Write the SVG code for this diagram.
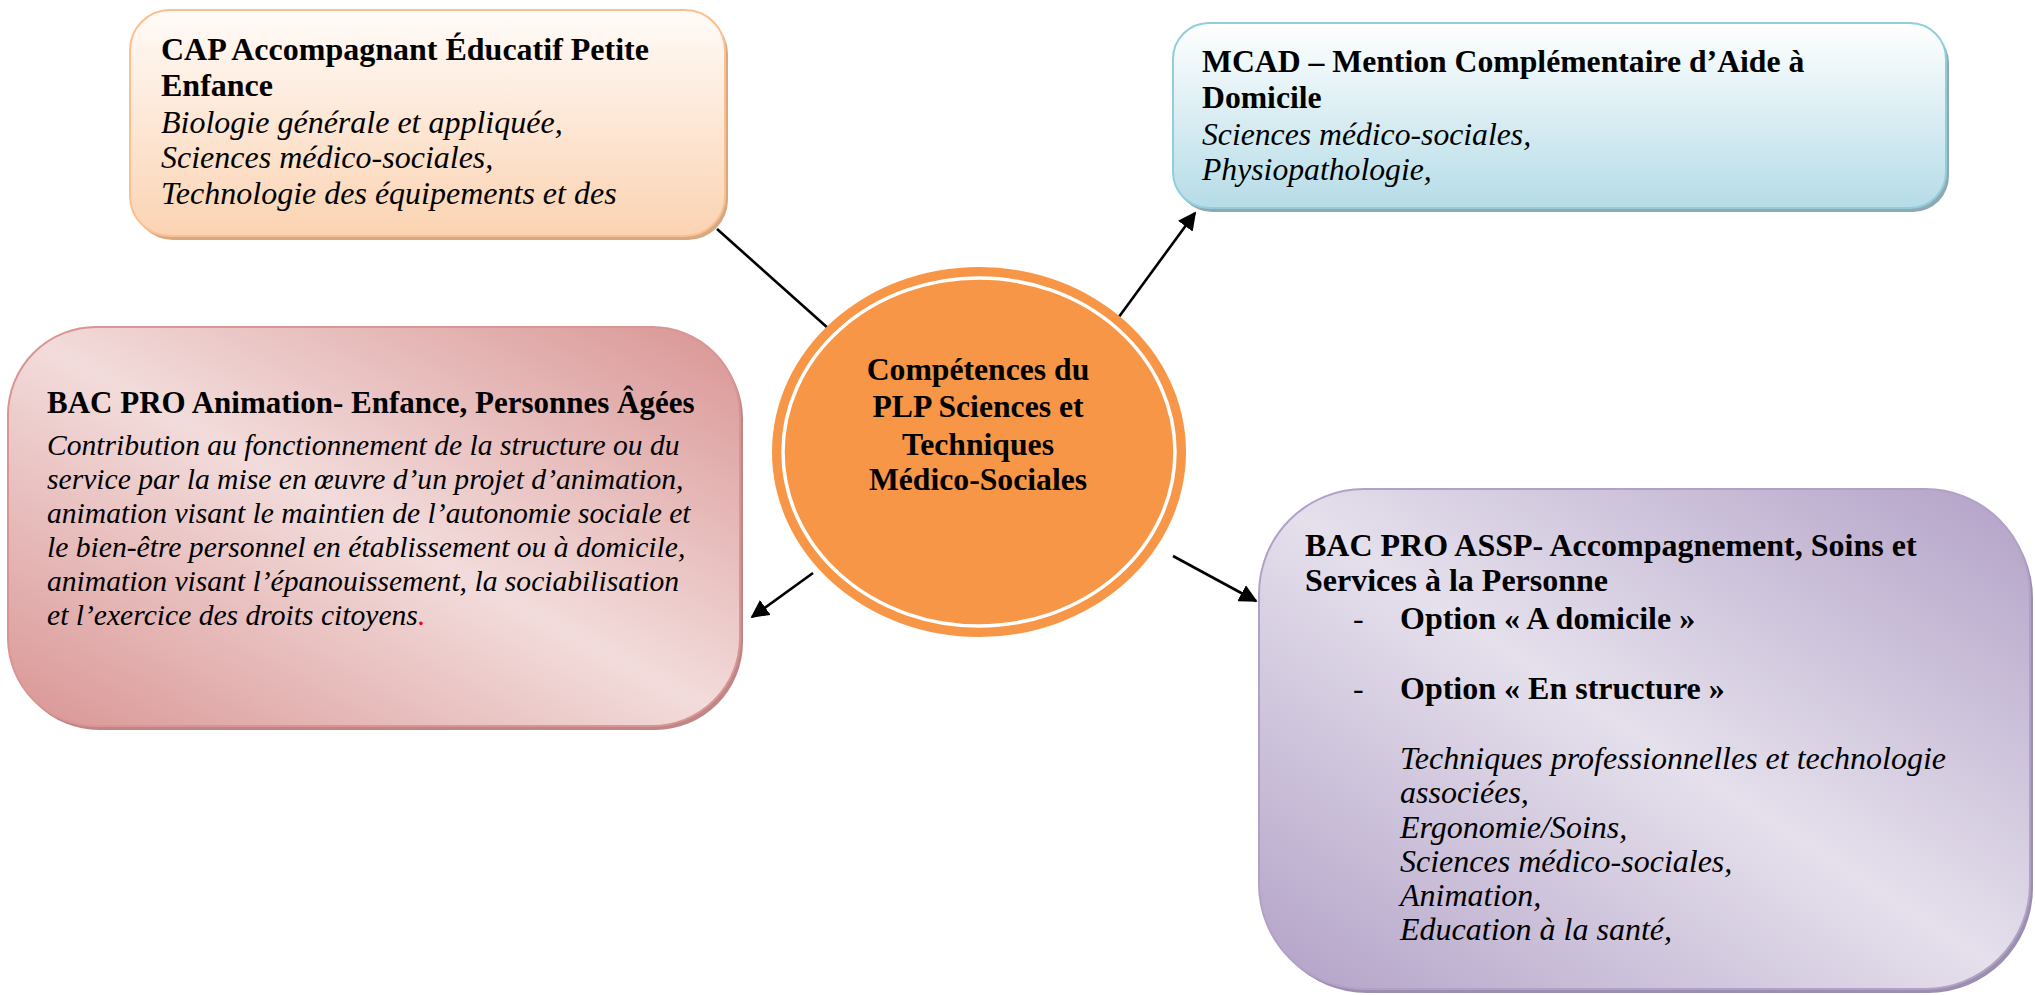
<svg xmlns="http://www.w3.org/2000/svg" width="2035" height="995" viewBox="0 0 2035 995">
<style>
text{font-family:"Liberation Serif","Times New Roman",serif;font-size:32px;fill:#000}
.b{font-weight:bold}
.i{font-style:italic}
.s{font-size:29.6px}
.c{font-size:31.7px}
.conn{stroke:#000;stroke-width:2.6;fill:none}
</style>
<defs>
<linearGradient id="gCap" x1="0" y1="0" x2="0" y2="1">
<stop offset="0" stop-color="#FFFBF8"/><stop offset="1" stop-color="#FBD3B2"/>
</linearGradient>
<linearGradient id="gMcad" x1="0" y1="0" x2="0" y2="1">
<stop offset="0" stop-color="#FFFFFF"/><stop offset="1" stop-color="#B5DCE7"/>
</linearGradient>
<linearGradient id="gAnim" x1="1" y1="0" x2="0" y2="1">
<stop offset="0" stop-color="#D99594"/><stop offset="0.5" stop-color="#F2DCDB"/><stop offset="1" stop-color="#D99594"/>
</linearGradient>
<linearGradient id="gAssp" x1="1" y1="0" x2="0" y2="1">
<stop offset="0" stop-color="#B2A1C7"/><stop offset="0.5" stop-color="#E5E0EC"/><stop offset="1" stop-color="#B2A1C7"/>
</linearGradient>
<marker id="arr" viewBox="0 0 10 10" refX="9" refY="5" markerWidth="7" markerHeight="7" markerUnits="strokeWidth" orient="auto">
<path d="M0,0 L10,5 L0,10 z" fill="#000"/>
</marker>
</defs>

<g id="connectors">
<line class="conn" x1="717" y1="229" x2="829" y2="329"/>
<line class="conn" x1="1113" y1="325" x2="1195" y2="213" marker-end="url(#arr)"/>
<line class="conn" x1="813" y1="573" x2="752" y2="617" marker-end="url(#arr)"/>
<line class="conn" x1="1173" y1="556" x2="1256" y2="601" marker-end="url(#arr)"/>
</g>

<g id="cap">
<rect x="133" y="14" width="595" height="226" rx="40" fill="#D7A884"/>
<rect x="130" y="10" width="595" height="226" rx="40" fill="url(#gCap)" stroke="#FAC08F" stroke-width="2"/>
<text class="b" x="161" y="60">CAP Accompagnant Éducatif Petite</text>
<text class="b" x="161" y="96">Enfance</text>
<text class="i" x="161" y="133">Biologie générale et appliquée,</text>
<text class="i" x="161" y="168">Sciences médico-sociales,</text>
<text class="i" x="161" y="204">Technologie des équipements et des</text>
</g>

<g id="mcad">
<rect x="1176" y="27" width="773" height="185" rx="36" fill="#8FA9B3"/>
<rect x="1173" y="23" width="773" height="185" rx="36" fill="url(#gMcad)" stroke="#92CDDC" stroke-width="2"/>
<text class="b c" x="1202" y="72">MCAD – Mention Complémentaire d’Aide à</text>
<text class="b c" x="1202" y="108">Domicile</text>
<text class="i c" x="1202" y="145">Sciences médico-sociales,</text>
<text class="i c" x="1202" y="180">Physiopathologie,</text>
</g>

<g id="anim">
<rect x="11" y="331" width="732" height="399" rx="88" fill="#C08587"/>
<rect x="8" y="327" width="732" height="399" rx="88" fill="url(#gAnim)" stroke="#D99594" stroke-width="2"/>
<text class="b" x="47" y="413" style="font-size:31px">BAC PRO Animation- Enfance, Personnes Âgées</text>
<text class="i s" x="47" y="455">Contribution au fonctionnement de la structure ou du</text>
<text class="i s" x="47" y="489">service par la mise en œuvre d’un projet d’animation,</text>
<text class="i s" x="47" y="523">animation visant le maintien de l’autonomie sociale et</text>
<text class="i s" x="47" y="557">le bien-être personnel en établissement ou à domicile,</text>
<text class="i s" x="47" y="591">animation visant l’épanouissement, la sociabilisation</text>
<text class="i s" x="47" y="625">et l’exercice des droits citoyens<tspan fill="#FF0000">.</tspan></text>
</g>

<g id="center">
<ellipse cx="979" cy="452" rx="207" ry="185" fill="#F79646"/>
<ellipse cx="979" cy="452" rx="196" ry="174" fill="none" stroke="#FFFFFF" stroke-width="3.5"/>
<text class="b c" x="978" y="380" text-anchor="middle">Compétences du</text>
<text class="b c" x="978" y="417" text-anchor="middle">PLP Sciences et</text>
<text class="b c" x="978" y="455" text-anchor="middle">Techniques</text>
<text class="b c" x="978" y="490" text-anchor="middle">Médico-Sociales</text>
</g>

<g id="assp">
<rect x="1262" y="493" width="771" height="500" rx="105" fill="#9C8EB0"/>
<rect x="1259" y="489" width="771" height="500" rx="105" fill="url(#gAssp)" stroke="#B2A1C7" stroke-width="2"/>
<text class="b" x="1305" y="556">BAC PRO ASSP- Accompagnement, Soins et</text>
<text class="b" x="1305" y="591">Services à la Personne</text>
<text x="1353" y="629">-</text>
<text class="b" x="1400" y="629">Option « A domicile »</text>
<text x="1353" y="699">-</text>
<text class="b" x="1400" y="699">Option « En structure »</text>
<text class="i" x="1400" y="769">Techniques professionnelles et technologie</text>
<text class="i" x="1400" y="803">associées,</text>
<text class="i" x="1400" y="838">Ergonomie/Soins,</text>
<text class="i" x="1400" y="872">Sciences médico-sociales,</text>
<text class="i" x="1400" y="906">Animation,</text>
<text class="i" x="1400" y="940">Education à la santé,</text>
</g>
</svg>
